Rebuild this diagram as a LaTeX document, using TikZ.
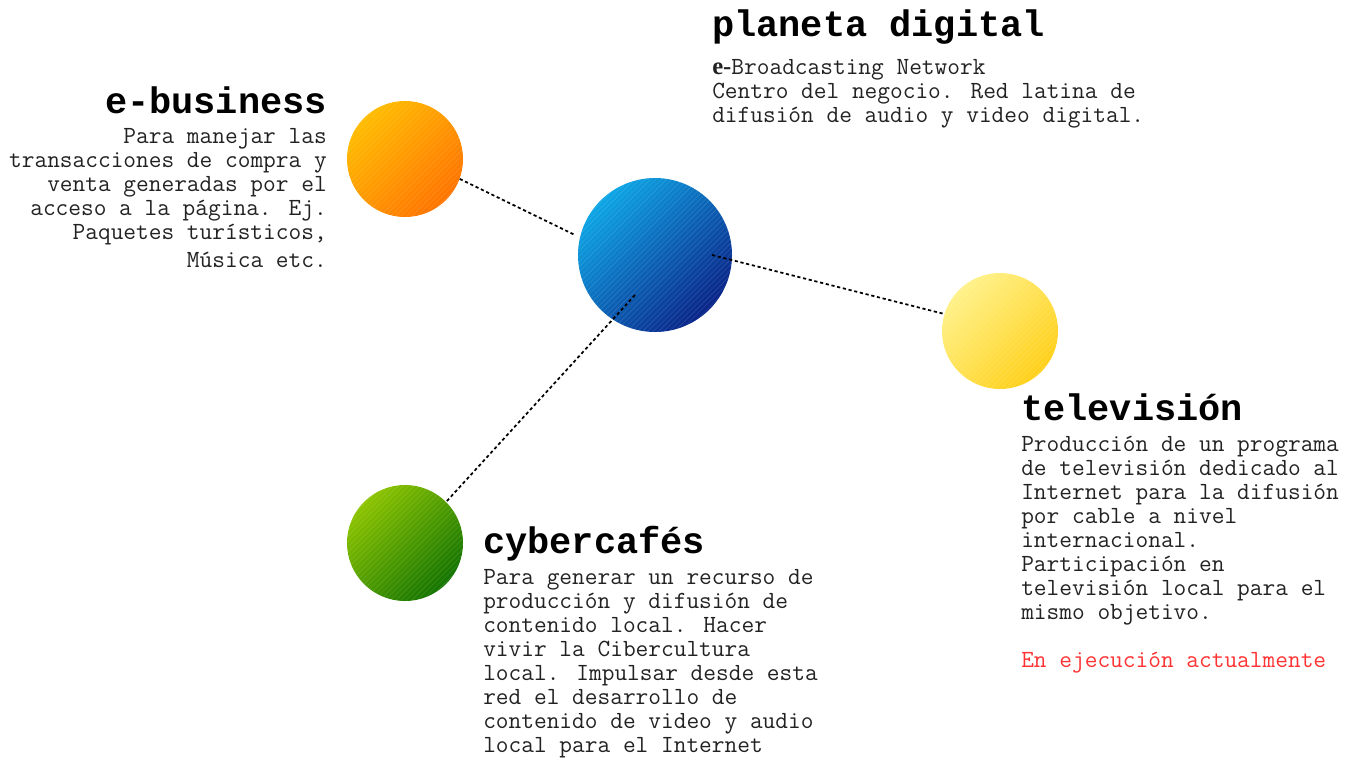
\documentclass[tikz,border=0pt]{standalone}
\usepackage{fontspec}
\newfontfamily\mono{Liberation Mono}
\newfontfamily\lmmono{Latin Modern Mono}
\newfontfamily\serifb{Liberation Serif}
\definecolor{bodytext}{HTML}{222222}
\definecolor{redtext}{HTML}{FF3333}
\definecolor{blueA}{HTML}{0EA6E6}
\definecolor{blueB}{HTML}{0A2488}
\definecolor{orangeA}{HTML}{FFBC00}
\definecolor{orangeB}{HTML}{FF7400}
\definecolor{yellowA}{HTML}{FFF28A}
\definecolor{yellowB}{HTML}{FFD01A}
\definecolor{greenA}{HTML}{8CC400}
\definecolor{greenB}{HTML}{137400}
\begin{document}
\begin{tikzpicture}[x=0.75pt,y=-0.75pt,
  ball/.style={circle, inner sep=0pt, minimum size=#1*0.75pt,
    path picture={\foreach \k in {-30,...,30}{\draw[white,opacity=0.16,line width=0.3pt]
      ([shift={(\k*2pt-90pt,-\k*2pt-90pt)}]path picture bounding box.center) -- ++(180pt,180pt);}}},
  diag/.style={shading angle=45},
  title/.style={inner sep=0pt, font=\mono\bfseries\fontsize{27.7pt}{30pt}\selectfont, text=black},
  body/.style={inner sep=0pt, font=\lmmono\fontsize{18.5pt}{18pt}\selectfont, text=bodytext},
  dotline/.style={line width=1.3pt, dash pattern=on 2.4pt off 2pt, black}]
\useasboundingbox (0,0) rectangle (1356,758);
% circles
\node[ball=154, top color=blueA, bottom color=blueB, diag] (pd) at (655,255) {};
\node[ball=116, top color=orangeA, bottom color=orangeB, diag] (eb) at (405,159) {};
\node[ball=116, top color=yellowA, bottom color=yellowB, diag] (tv) at (1000,331) {};
\node[ball=116, top color=greenA, bottom color=greenB, diag] (cc) at (405,543) {};
% connector ends
\coordinate (pdL) at (575,235);
\coordinate (pdR) at (712,255);
\coordinate (pdB) at (635,295);
\draw[dotline] (eb.-20) -- (pdL);
\draw[dotline] (pdR) -- (tv.163);
\draw[dotline] (pdB) -- (cc.45);
% planeta digital (base anchor = baseline of last line)
\node[title, anchor=base west] (pdt) at (712,36) {planeta digital};
\node[body, anchor=base west, align=left] (pdd) at (712,122) {{\serifb\bfseries e-}Broadcasting Network\\
Centro del negocio. Red latina de\\
difusión de audio y video digital.};
% e-business
\node[title, anchor=base east] (ebt) at (327,113) {e-business};
\node[body, anchor=base east, align=right] (ebd) at (327,267) {Para manejar las\\
transacciones de compra y\\
venta generadas por el\\
acceso a la página. Ej.\\
Paquetes turísticos,\\[3pt]
Música etc.};
% cybercafes
\node[title, anchor=base west] (cct) at (483,553) {cybercafés};
\node[body, anchor=base west, align=left] (ccd) at (483,752) {Para generar un recurso de\\
producción y difusión de\\
contenido local. Hacer\\
vivir la Cibercultura\\
local. Impulsar desde esta\\
red el desarrollo de\\
contenido de video y audio\\
local para el Internet};
% television
\node[title, anchor=base west] (tvt) at (1021,420) {televisión};
\node[body, anchor=base west, align=left] (tvd) at (1021,667) {Producción de un programa\\
de televisión dedicado al\\
Internet para la difusión\\
por cable a nivel\\
internacional.\\
Participación en\\
televisión local para el\\
mismo objetivo.\\[18pt]
\textcolor{redtext}{En ejecución actualmente}};
\end{tikzpicture}
\end{document}
